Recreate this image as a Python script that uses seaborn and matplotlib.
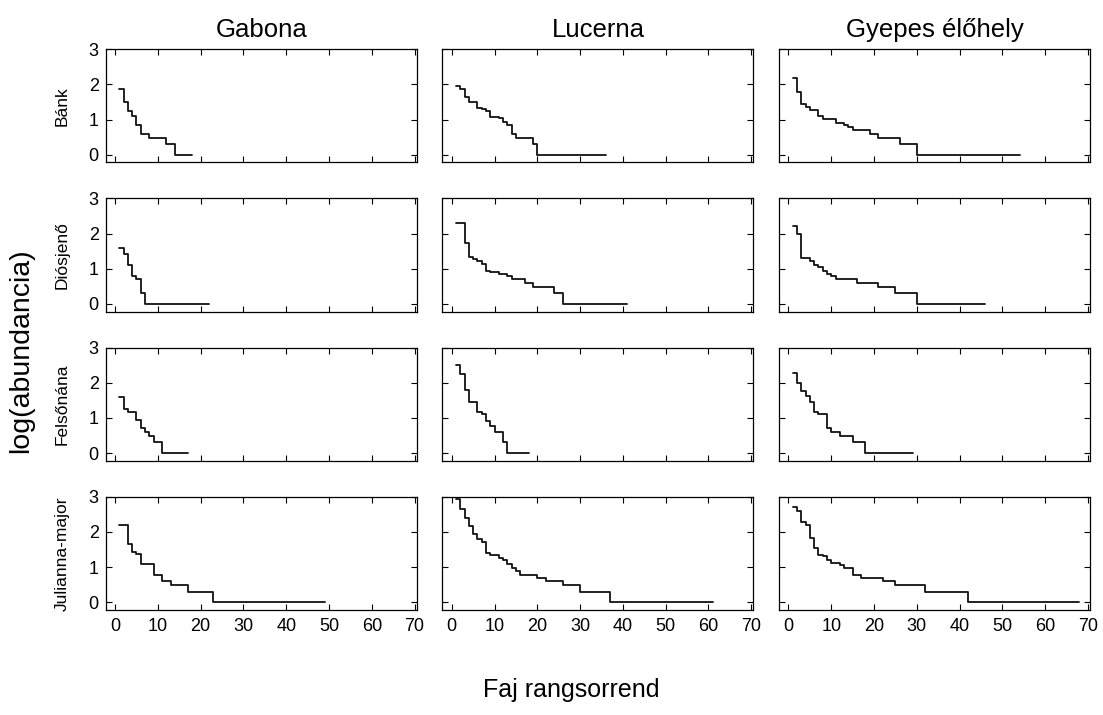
import matplotlib
matplotlib.use("Agg")
import matplotlib.pyplot as plt
import numpy as np
import pandas as pd
import seaborn as sns

sns.set_theme(style="white")
plt.rcParams["font.family"] = ["Liberation Sans", "DejaVu Sans"]
plt.rcParams["text.color"] = "black"
plt.rcParams["axes.labelcolor"] = "black"
plt.rcParams["xtick.color"] = "black"
plt.rcParams["ytick.color"] = "black"

habitats = ["Gabona", "Lucerna", "Gyepes élőhely"]
sites = ["Bánk", "Diósjenő", "Felsőnána", "Julianna-major"]
x_ticks = [0, 10, 20, 30, 40, 50, 60, 70]
y_ticks = [0, 1, 2, 3]

# log(abundance) per species, in rank order (rank 1 = most abundant)
gabona_bank = [1.87, 1.5, 1.25, 1.1, 0.85, 0.6, 0.6, 0.48, 0.48, 0.48, 0.48, 0.3, 0.3,
               0, 0, 0, 0, 0]
gabona_diosjeno = [1.58, 1.43, 1.1, 0.8, 0.7, 0.3,
                   0, 0, 0, 0, 0, 0, 0, 0, 0, 0, 0, 0, 0, 0, 0, 0]
gabona_felsonana = [1.6, 1.24, 1.17, 1.17, 0.95, 0.7, 0.6, 0.48, 0.3, 0.3,
                    0, 0, 0, 0, 0, 0, 0]
gabona_julianna = [2.2, 2.2, 1.65, 1.44, 1.38, 1.1, 1.1, 1.08, 0.78, 0.78, 0.6, 0.6,
                   0.48, 0.48, 0.48, 0.48, 0.3, 0.3, 0.3, 0.3, 0.3, 0.3,
                   0, 0, 0, 0, 0, 0, 0, 0, 0, 0, 0, 0, 0, 0, 0, 0, 0, 0, 0, 0,
                   0, 0, 0, 0, 0, 0, 0]

lucerna_bank = [1.95, 1.88, 1.64, 1.5, 1.5, 1.33, 1.29, 1.24, 1.07, 1.07, 1.04, 0.93,
                0.85, 0.6, 0.48, 0.48, 0.48, 0.48, 0.3,
                0, 0, 0, 0, 0, 0, 0, 0, 0, 0, 0, 0, 0, 0, 0, 0, 0]
lucerna_diosjeno = [2.3, 2.3, 1.73, 1.33, 1.29, 1.23, 1.13, 0.95, 0.9, 0.9, 0.85, 0.85,
                    0.78, 0.7, 0.7, 0.7, 0.6, 0.6, 0.48, 0.48, 0.48, 0.48, 0.48, 0.3, 0.3,
                    0, 0, 0, 0, 0, 0, 0, 0, 0, 0, 0, 0, 0, 0, 0, 0]
lucerna_felsonana = [2.5, 2.26, 1.78, 1.46, 1.46, 1.16, 1.11, 0.92, 0.78, 0.6, 0.6, 0.3,
                     0, 0, 0, 0, 0, 0]
lucerna_julianna = [2.93, 2.65, 2.4, 2.17, 1.94, 1.79, 1.72, 1.41, 1.34, 1.34, 1.26, 1.21,
                    1.09, 0.97, 0.9, 0.78, 0.78, 0.78, 0.78, 0.7, 0.7, 0.6, 0.6, 0.6, 0.6,
                    0.48, 0.48, 0.48, 0.48, 0.3, 0.3, 0.3, 0.3, 0.3, 0.3, 0.3,
                    0, 0, 0, 0, 0, 0, 0, 0, 0, 0, 0, 0, 0, 0, 0, 0, 0, 0, 0, 0,
                    0, 0, 0, 0, 0]

gyepes_bank = [2.18, 1.78, 1.45, 1.37, 1.26, 1.26, 1.09, 1.02, 1.02, 1.02, 0.9, 0.9,
               0.85, 0.78, 0.7, 0.7, 0.7, 0.7, 0.6, 0.6, 0.48, 0.48, 0.48, 0.48, 0.48,
               0.3, 0.3, 0.3, 0.3,
               0, 0, 0, 0, 0, 0, 0, 0, 0, 0, 0, 0, 0, 0, 0, 0, 0, 0, 0, 0,
               0, 0, 0, 0, 0]
gyepes_diosjeno = [2.23, 2.0, 1.3, 1.3, 1.21, 1.1, 1.05, 0.95, 0.85, 0.78,
                   0.7, 0.7, 0.7, 0.7, 0.7, 0.6, 0.6, 0.6, 0.6, 0.6,
                   0.48, 0.48, 0.48, 0.48, 0.3, 0.3, 0.3, 0.3, 0.3,
                   0, 0, 0, 0, 0, 0, 0, 0, 0, 0, 0, 0, 0, 0, 0, 0, 0]
gyepes_felsonana = [2.27, 1.98, 1.76, 1.62, 1.45, 1.16, 1.1, 1.1, 0.7, 0.6, 0.6,
                    0.48, 0.48, 0.48, 0.3, 0.3, 0.3,
                    0, 0, 0, 0, 0, 0, 0, 0, 0, 0, 0, 0]
gyepes_julianna = [2.7, 2.6, 2.29, 2.19, 1.84, 1.53, 1.34, 1.3, 1.2, 1.11, 1.11, 1.06,
                   0.98, 0.98, 0.78, 0.78, 0.7, 0.7, 0.7, 0.7, 0.7, 0.6, 0.6, 0.6,
                   0.48, 0.48, 0.48, 0.48, 0.48, 0.48, 0.48,
                   0.3, 0.3, 0.3, 0.3, 0.3, 0.3, 0.3, 0.3, 0.3, 0.3,
                   0, 0, 0, 0, 0, 0, 0, 0, 0, 0, 0, 0, 0, 0, 0, 0, 0, 0, 0, 0,
                   0, 0, 0, 0, 0, 0, 0]

series = {
    ("Gabona", "Bánk"): gabona_bank,
    ("Gabona", "Diósjenő"): gabona_diosjeno,
    ("Gabona", "Felsőnána"): gabona_felsonana,
    ("Gabona", "Julianna-major"): gabona_julianna,
    ("Lucerna", "Bánk"): lucerna_bank,
    ("Lucerna", "Diósjenő"): lucerna_diosjeno,
    ("Lucerna", "Felsőnána"): lucerna_felsonana,
    ("Lucerna", "Julianna-major"): lucerna_julianna,
    ("Gyepes élőhely", "Bánk"): gyepes_bank,
    ("Gyepes élőhely", "Diósjenő"): gyepes_diosjeno,
    ("Gyepes élőhely", "Felsőnána"): gyepes_felsonana,
    ("Gyepes élőhely", "Julianna-major"): gyepes_julianna,
}

rows = []
for (hab, site), vals in series.items():
    for i, v in enumerate(vals):
        rows.append({"habitat": hab, "site": site, "rank": i + 1, "logab": v})
df = pd.DataFrame(rows)

fig, axes = plt.subplots(4, 3, figsize=(11.03, 7.15), dpi=100)
fig.subplots_adjust(left=0.0958, right=0.9883, top=0.931, bottom=0.147,
                    wspace=0.0826, hspace=0.318)

for r, site in enumerate(sites):
    for c, hab in enumerate(habitats):
        ax = axes[r, c]
        sub = df[(df["habitat"] == hab) & (df["site"] == site)]
        sns.lineplot(data=sub, x="rank", y="logab", drawstyle="steps-post",
                     color="#111111", linewidth=1.3, ax=ax, estimator=None)
        ax.set_xlim(-2.2, 70.5)
        ax.set_ylim(-0.22, 3.0)
        ax.set_xticks(x_ticks)
        ax.set_yticks(y_ticks)
        ax.tick_params(direction="in", length=4, width=0.8, top=True, right=True,
                       bottom=True, left=True, labelsize=13, colors="black")
        ax.tick_params(axis="y", pad=5)
        ax.tick_params(axis="x", pad=6)
        for sp in ax.spines.values():
            sp.set_color("black")
            sp.set_linewidth(0.9)
        ax.set_xlabel("")
        if c == 0:
            ax.set_ylabel(site, fontsize=12.5)
            ax.yaxis.set_label_coords(-0.14, 0.5)
            ax.yaxis.label.set_verticalalignment("center")
        else:
            ax.set_ylabel("")
            ax.tick_params(labelleft=False)
        if r < 3:
            ax.tick_params(labelbottom=False)
        if r == 0:
            ax.set_title(hab, fontsize=18.5, pad=9)

fig.supxlabel("Faj rangsorrend", x=0.518, y=0.035, fontsize=18, va="center")
fig.supylabel("log(abundancia)", x=0.019, y=0.51, fontsize=20.5, va="center", ha="center")

fig.savefig("out.png", dpi=100)
